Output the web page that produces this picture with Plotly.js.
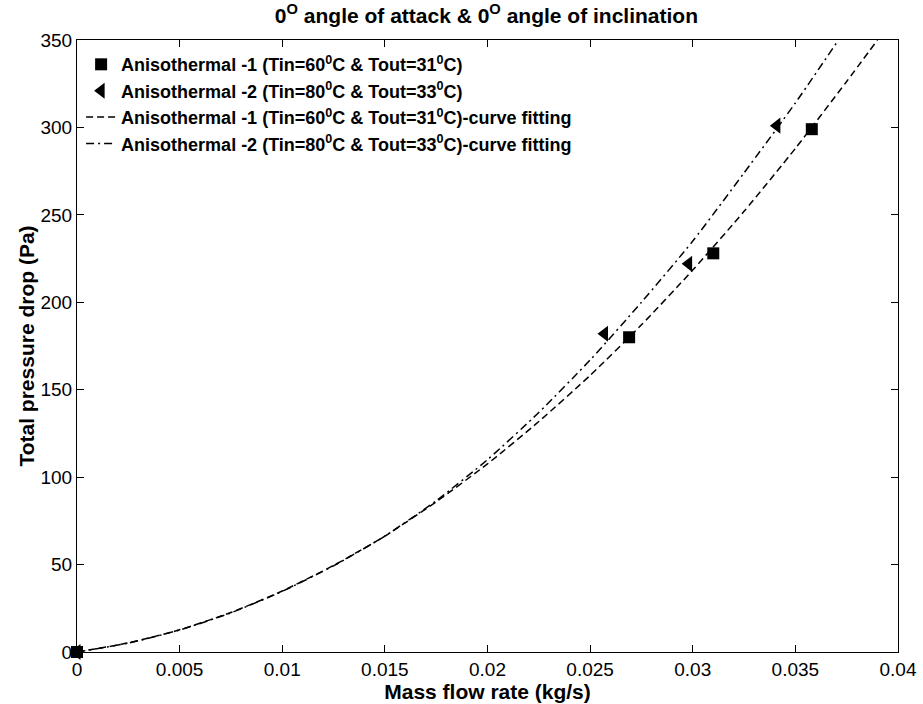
<!DOCTYPE html>
<html>
<head>
<meta charset="utf-8">
<script src="https://cdn.plot.ly/plotly-3.0.1.min.js"></script>
<style>html,body{margin:0;padding:0;background:#fff;}#chart{width:923px;height:704px;}</style>
</head>
<body>
<div id="chart"></div>
<script>
// Measured points
var aniso1X = [0, 0.0269, 0.0310, 0.0358];
var aniso1Y = [0, 180, 228, 299];
var aniso2X = [0, 0.0257, 0.0298, 0.0341];
var aniso2Y = [0, 182, 222, 301];

// Curve-fitting lines
var fit1X = [0, 0.0025, 0.005, 0.0075, 0.01, 0.0125, 0.015, 0.0175, 0.02, 0.0225, 0.025, 0.0275, 0.03, 0.0325, 0.035, 0.0375, 0.039];
var fit1Y = [0, 5.2, 12.7, 22.6, 34.9, 49.5, 66.3, 85.9, 107.6, 131.8, 158.2, 187.1, 218.4, 252, 288, 326.3, 350];
var fit2X = [0, 0.0025, 0.005, 0.0075, 0.01, 0.0125, 0.015, 0.0175, 0.02, 0.0225, 0.025, 0.0275, 0.03, 0.0325, 0.035, 0.0371];
var fit2Y = [0, 5.1, 12.6, 22.4, 34.7, 49.3, 66.3, 86.5, 110, 137, 167, 200, 235, 274, 314, 350];

var names = [
  'Anisothermal -1 (Tin=60<sup>0</sup>C & Tout=31<sup>0</sup>C)',
  'Anisothermal -2 (Tin=80<sup>0</sup>C & Tout=33<sup>0</sup>C)',
  'Anisothermal -1 (Tin=60<sup>0</sup>C & Tout=31<sup>0</sup>C)-curve fitting',
  'Anisothermal -2 (Tin=80<sup>0</sup>C & Tout=33<sup>0</sup>C)-curve fitting'
];

var traces = [
  {x: aniso1X, y: aniso1Y, name: names[0], mode: 'markers', type: 'scatter', cliponaxis: false,
   legendgroup: 'a', marker: {symbol: 'square', size: 12, color: '#000'}},
  {x: aniso2X, y: aniso2Y, name: names[1], mode: 'markers', type: 'scatter', cliponaxis: false,
   legendgroup: 'b', marker: {symbol: 'triangle-left', size: 14, color: '#000'}},
  {x: fit1X, y: fit1Y, name: names[2], mode: 'lines', type: 'scatter', legendgroup: 'c',
   line: {color: '#000', width: 1.5, dash: '7px,4px', shape: 'spline', smoothing: 0.6}},
  {x: fit2X, y: fit2Y, name: names[3], mode: 'lines', type: 'scatter', legendgroup: 'd',
   line: {color: '#000', width: 1.5, dash: '8px,4px,2px,4px', shape: 'spline', smoothing: 0.6}}
];

var axisCommon = {
  showline: true, linecolor: '#000', linewidth: 1, mirror: 'allticks',
  ticks: 'inside', ticklen: 7, tickcolor: '#000', showgrid: false, zeroline: false,
  tickfont: {family: 'Liberation Sans, Arial', size: 19, color: '#000'}
};

var layout = {
  width: 923, height: 704,
  paper_bgcolor: '#fff', plot_bgcolor: '#fff',
  margin: {l: 77, r: 25, t: 40, b: 52},
  showlegend: true,
  title: {text: '0<sup>O</sup> angle of attack & 0<sup>O</sup> angle of inclination',
          font: {family: 'Liberation Sans, Arial', size: 21, color: '#000', weight: 'bold'},
          x: 0.527, xanchor: 'center', y: 0.978, yanchor: 'middle'},
  xaxis: Object.assign({}, axisCommon, {
    range: [0, 0.04], tickvals: [0, 0.005, 0.01, 0.015, 0.02, 0.025, 0.03, 0.035, 0.04],
    ticktext: ['0', '0.005', '0.01', '0.015', '0.02', '0.025', '0.03', '0.035', '0.04'],
    title: {text: 'Mass flow rate (kg/s)', standoff: 0,
            font: {family: 'Liberation Sans, Arial', size: 21, color: '#000', weight: 'bold'}}
  }),
  yaxis: Object.assign({}, axisCommon, {
    range: [0, 350], tickvals: [0, 50, 100, 150, 200, 250, 300, 350],
    title: {text: 'Total pressure drop (Pa)', standoff: 0,
            font: {family: 'Liberation Sans, Arial', size: 21, color: '#000', weight: 'bold'}}
  }),
  legend: {x: 0.005, y: 0.99, xanchor: 'left', yanchor: 'top',
           bgcolor: 'rgba(0,0,0,0)', borderwidth: 0, tracegroupgap: 0,
           font: {family: 'Liberation Sans, Arial', size: 18, color: '#000', weight: 'bold'}}
};

Plotly.newPlot('chart', traces, layout, {displayModeBar: false, staticPlot: true});
</script>
</body>
</html>
